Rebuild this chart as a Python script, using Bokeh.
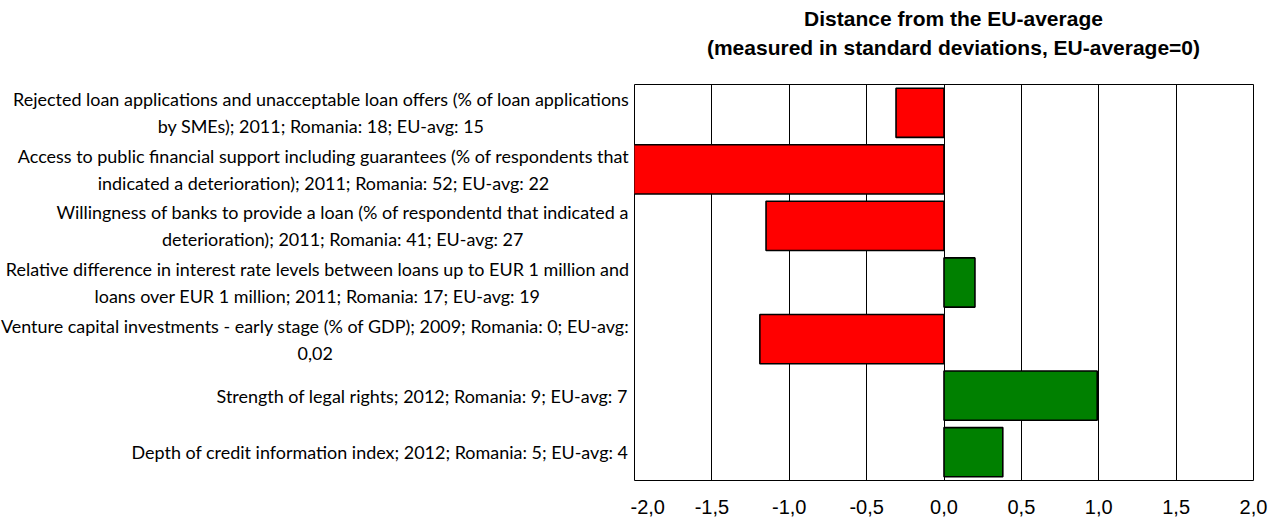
import glob
import os
import subprocess

from bokeh.plotting import figure
from bokeh.layouts import row, column
from bokeh.models import Range1d, FixedTicker, ColumnDataSource
from bokeh.core.properties import value
from bokeh.embed import file_html
from bokeh.resources import INLINE

# ---------------- data ----------------
categories = [
    "Rejected loan applications and unacceptable loan offers (% of loan applications\nby SMEs); 2011; Romania: 18; EU-avg: 15",
    "Access to public financial support including guarantees (% of respondents that\nindicated a deterioration); 2011; Romania: 52; EU-avg: 22",
    "Willingness of banks to provide a loan (% of respondentd that indicated a\ndeterioration); 2011; Romania: 41; EU-avg: 27",
    "Relative difference in interest rate levels between loans up to EUR 1 million and\nloans over EUR 1 million; 2011; Romania: 17; EU-avg: 19",
    "Venture capital investments - early stage (% of GDP); 2009; Romania: 0; EU-avg:\n0,02",
    "Strength of legal rights; 2012; Romania: 9; EU-avg: 7",
    "Depth of credit information index; 2012; Romania: 5; EU-avg: 4",
]
scores = [-0.31, -2.05, -1.15, 0.20, -1.19, 0.99, 0.38]
x_ticks = [-2.0, -1.5, -1.0, -0.5, 0.0, 0.5, 1.0, 1.5, 2.0]
x_tick_labels = ["-2,0", "-1,5", "-1,0", "-0,5", "0,0", "0,5", "1,0", "1,5", "2,0"]
title_lines = ["Distance from the EU-average",
               "(measured in standard deviations, EU-average=0)"]

# ---------------- layout ----------------
TOTAL_W = 1275
TITLE_H = 72
ROW_H = 452
TOP, BOTTOM = 12, 44     # frame top at 84, frame bottom at 480
LEFT_W = 630
MAIN_W = TOTAL_W - LEFT_W
MAIN_BL, MAIN_BR = 4, 22
X0, X1 = -2.0, 2.0
N = len(categories)


# ---------------- text measuring ----------------
def find_font(patterns, family):
    dirs = ["/usr/share/fonts", "/usr/local/share/fonts",
            os.path.expanduser("~/.local/share/fonts"), os.path.expanduser("~/.fonts")]
    for pat in patterns:
        for d in dirs:
            hits = sorted(glob.glob(os.path.join(d, "**", pat), recursive=True))
            if hits:
                return hits[0]
    try:
        out = subprocess.run(["fc-match", "-f", "%{file}", family],
                             capture_output=True, text=True, timeout=5).stdout.strip()
        if out:
            return out
    except Exception:
        pass
    return None


measure = None
try:
    from PIL import ImageFont
    fpath = find_font(["Lato-Regular.ttf", "Lato-Reg*.ttf"], "Lato:style=Regular")
    if fpath:
        _font = ImageFont.truetype(fpath, 100)
        measure = lambda s: _font.getlength(s) / 100.0
except Exception:
    measure = None
if measure is None:
    measure = lambda s: 0.5 * len(s)

lines_per_cat = [c.split("\n") for c in categories]
em_widths = [max(measure(l) for l in ls) for ls in lines_per_cat]
label_fs = 625.0 / measure(lines_per_cat[0][0])
label_fs = min(label_fs, 628.0 / max(em_widths))
label_right_px = 624.0
label_x = [label_right_px - w * label_fs * 0.985 / 2.0 for w in em_widths]
cat_y = [i + 0.5 for i in range(N)]

y_range = Range1d(N, 0)

# ---------------- title panel ----------------
pt = figure(width=TOTAL_W, height=TITLE_H, output_backend="svg", toolbar_location=None,
            x_range=Range1d(0, TOTAL_W), y_range=Range1d(TITLE_H, 0),
            x_axis_location=None, y_axis_location=None,
            min_border_left=0, min_border_right=0, min_border_top=0, min_border_bottom=0)
pt.outline_line_color = None
pt.grid.visible = False
pt.text(x=[953, 953], y=[18, 47], text=title_lines,
        text_align="center", text_baseline="middle",
        text_font=value("Liberation Sans"), text_font_style="bold",
        text_font_size=value("21px"), text_color="black")

# ---------------- label panel ----------------
pl = figure(width=LEFT_W, height=ROW_H, output_backend="svg", toolbar_location=None,
            x_range=Range1d(0, LEFT_W), y_range=y_range,
            x_axis_location=None, y_axis_location=None,
            min_border_left=0, min_border_right=0,
            min_border_top=TOP, min_border_bottom=BOTTOM)
pl.outline_line_color = None
pl.grid.visible = False
pl.text(x=label_x, y=cat_y, text=categories,
        text_align="center", text_baseline="middle",
        text_font=value("Lato"), text_font_size=value(f"{label_fs:.2f}px"),
        text_line_height=22.0 / label_fs, text_color="black")

# ---------------- main chart ----------------
p = figure(width=MAIN_W, height=ROW_H, output_backend="svg", toolbar_location=None,
           x_range=Range1d(X0, X1), y_range=y_range,
           min_border_left=MAIN_BL, min_border_right=MAIN_BR,
           min_border_top=TOP, min_border_bottom=BOTTOM)
p.background_fill_color = "white"
p.border_fill_color = "white"
p.outline_line_color = "black"
p.outline_line_width = 1

colors = ["#FF0000" if v < 0 else "#008000" for v in scores]
src = ColumnDataSource(dict(y=cat_y, right=scores, color=colors))
p.hbar(y="y", left=0, right="right", height=0.87, fill_color="color",
       line_color="black", line_width=1.6, source=src)

p.yaxis.visible = False
p.ygrid.visible = False
p.xgrid.ticker = FixedTicker(ticks=x_ticks)
p.xgrid.grid_line_color = "black"
p.xgrid.grid_line_width = 1
p.xgrid.level = "underlay"

xa = p.xaxis[0]
xa.ticker = FixedTicker(ticks=x_ticks)
xa.major_label_overrides = {t: l for t, l in zip(x_ticks, x_tick_labels)}
xa.axis_line_color = None
xa.major_tick_line_color = None
xa.minor_tick_line_color = None
xa.major_tick_out = 0
xa.major_tick_in = 0
xa.major_label_standoff = 19
xa.major_label_text_font = "Liberation Sans"
xa.major_label_text_font_size = "20px"
xa.major_label_text_color = "black"

layout = column(pt, row(pl, p, spacing=0), spacing=0)
open("out.html", "w").write(file_html(layout, INLINE))
